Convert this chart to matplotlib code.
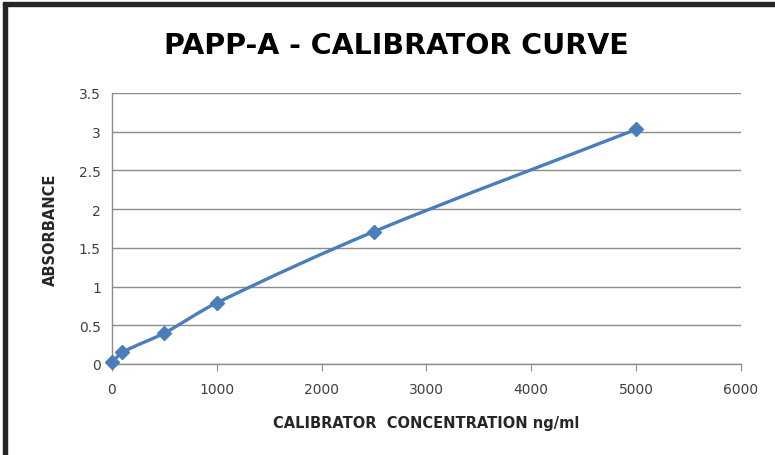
import matplotlib
matplotlib.use("Agg")
import matplotlib.pyplot as plt
import numpy as np
from matplotlib.path import Path
from matplotlib.patches import PathPatch, Rectangle

# calibrator data
conc = [0, 100, 500, 1000, 2500, 5000]
absorbance = [0.02, 0.15, 0.40, 0.79, 1.71, 3.03]
x_ticks = [0, 1000, 2000, 3000, 4000, 5000, 6000]
y_ticks = [0, 0.5, 1, 1.5, 2, 2.5, 3, 3.5]
y_tick_labels = ["0", "0.5", "1", "1.5", "2", "2.5", "3", "3.5"]

line_col = "#4A7EBB"
txt_col = "#404040"

fig = plt.figure(figsize=(7.75, 4.56), dpi=100)
ax = fig.add_axes([0.1445, 0.1996, 0.8115, 0.5943])

# smoothed line like excel: cubic hermite pieces drawn as bezier curves
x = np.array(conc, dtype=float)
y = np.array(absorbance, dtype=float)
n = len(x)
slope = np.zeros(n)
for i in range(n):
    lo = max(i - 1, 0)
    hi = min(i + 1, n - 1)
    slope[i] = (y[hi] - y[lo]) / (x[hi] - x[lo])
verts = [(x[0], y[0])]
codes = [Path.MOVETO]
for i in range(n - 1):
    h = (x[i + 1] - x[i]) / 3.0
    verts += [(x[i] + h, y[i] + slope[i] * h),
              (x[i + 1] - h, y[i + 1] - slope[i + 1] * h),
              (x[i + 1], y[i + 1])]
    codes += [Path.CURVE4] * 3
ax.add_patch(PathPatch(Path(verts, codes), facecolor="none", edgecolor=line_col,
                       lw=2.4, capstyle="round", zorder=3))
ax.plot(conc, absorbance, ls="none", marker="D", ms=7.5, color=line_col,
        clip_on=False, zorder=4)

ax.set_xlim(0, 6000)
ax.set_ylim(0, 3.5)
ax.set_xticks(x_ticks)
ax.set_yticks(y_ticks)
ax.set_yticklabels(y_tick_labels)
ax.grid(axis="y", color="#8c8c8c", lw=1.0)
ax.set_axisbelow(True)
for s in ["top", "right"]:
    ax.spines[s].set_visible(False)
for s in ["left", "bottom"]:
    ax.spines[s].set_color("#8c8c8c")
    ax.spines[s].set_linewidth(1.0)
ax.tick_params(axis="y", length=0, pad=8, labelsize=10, labelcolor=txt_col)
ax.tick_params(axis="x", length=5, direction="out", color="#8c8c8c", pad=8,
               labelsize=10, labelcolor=txt_col)

ax.set_xlabel("CALIBRATOR  CONCENTRATION ng/ml", fontsize=10.5, fontweight="bold",
              color="#262626", labelpad=14)
ax.set_ylabel("ABSORBANCE", fontsize=10.5, fontweight="bold", color="#262626",
              labelpad=15)
fig.text(0.512, 0.90, "PAPP-A - CALIBRATOR CURVE", ha="center", va="center",
         fontsize=20.5, fontweight="bold", color="black")

# dark frame on left and top edges
fig.patches.append(Rectangle((0.004, 0.0), 0.005, 0.992, transform=fig.transFigure,
                             color="#262626", zorder=10))
fig.patches.append(Rectangle((0.004, 0.985), 0.996, 0.008, transform=fig.transFigure,
                             color="#262626", zorder=10))

fig.savefig("out.png", dpi=100)
